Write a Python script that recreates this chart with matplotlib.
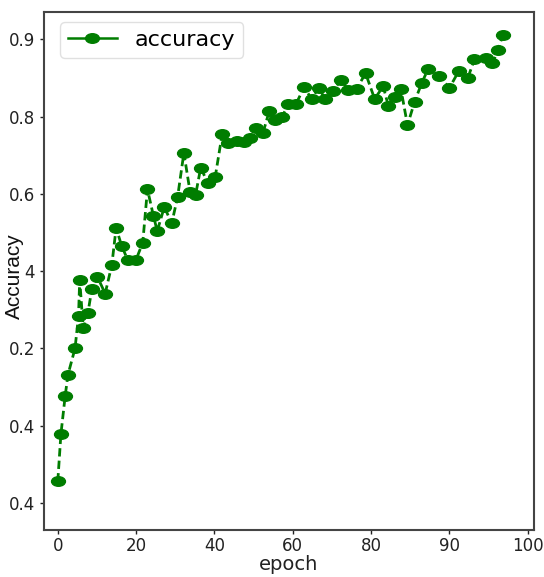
import numpy as np
import matplotlib
matplotlib.use("Agg")
from matplotlib import pyplot as plt
from matplotlib.path import Path
from matplotlib.transforms import Affine2D
from matplotlib.lines import Line2D

# values (x in tick units of 20, y in tick units of 0.1)
epoch = [0, 0.8, 1.9, 2.6, 4.4, 5.3, 5.6, 6.5, 7.7, 8.7, 10.1, 12.1, 13.8, 14.9, 16.3,
         17.9, 20.0, 21.7, 22.9, 24.4, 25.4, 27.2, 29.1, 30.6, 32.2, 33.8, 35.2, 36.5,
         38.3, 40.2, 42.0, 43.5, 45.7, 47.6, 49.1, 50.6, 52.4, 54.0, 55.5, 57.3, 58.9,
         60.8, 62.9, 64.8, 66.6, 68.3, 70.4, 72.3, 74.2, 76.3, 78.6, 80.9, 83.1, 84.4,
         86.1, 87.6, 89.3, 91.1, 92.9, 94.6, 97.3, 100.0, 102.4, 104.7, 106.4, 109.3,
         111.0, 112.4, 113.6]
accuracy = [0.328, 0.389, 0.439, 0.466, 0.500, 0.542, 0.589, 0.526, 0.546, 0.577, 0.593,
            0.571, 0.608, 0.656, 0.633, 0.614, 0.615, 0.637, 0.706, 0.672, 0.652, 0.683,
            0.662, 0.696, 0.753, 0.702, 0.699, 0.734, 0.714, 0.722, 0.778, 0.766, 0.769,
            0.767, 0.772, 0.785, 0.779, 0.807, 0.796, 0.800, 0.816, 0.816, 0.838, 0.823,
            0.837, 0.823, 0.833, 0.848, 0.834, 0.836, 0.856, 0.823, 0.839, 0.814, 0.825,
            0.836, 0.789, 0.819, 0.843, 0.862, 0.853, 0.837, 0.859, 0.850, 0.874, 0.876,
            0.869, 0.886, 0.905]

xtick_pos = [0, 20, 40, 60, 80, 100, 120]
xtick_labels = ['0', '20', '40', '60', '80', '90', '100']
ytick_pos = [0.3, 0.4, 0.5, 0.6, 0.7, 0.8, 0.9]
ytick_labels = ['0.4', '0.4', '0.2', '4', '0.6', '0.8', '0.9']

green = '#007d00'
ellipse = Path.unit_circle().transformed(Affine2D().scale(1.45, 1.0))

fig = plt.figure(figsize=(5.44, 5.77), dpi=100)
ax = fig.add_axes([0.081, 0.0815, 0.9006, 0.8982])

ax.plot(epoch, accuracy, color=green, linestyle='--', linewidth=2,
        marker=ellipse, markersize=10, markeredgecolor=green, dashes=(3, 1.5))

ax.set_xlim(-3.5, 121.6)
ax.set_ylim(0.2652, 0.9357)
ax.set_xticks(xtick_pos)
ax.set_xticklabels(xtick_labels)
ax.set_yticks(ytick_pos)
ax.set_yticklabels(ytick_labels)
ax.tick_params(labelsize=12, colors='#222222', length=3, width=1)
ax.tick_params(axis='x', pad=2)

for s in ax.spines.values():
    s.set_color('#444444')
    s.set_linewidth(1.5)

ax.set_xlabel('epoch', fontsize=14, color='#222222', labelpad=0)
ax.set_ylabel('Accuracy', fontsize=15, color='#111111',
              family=['Liberation Sans', 'DejaVu Sans'])
ax.yaxis.set_label_coords(-0.042, 0.49)

handle = Line2D([], [], color=green, linewidth=1.8, marker=ellipse, markersize=10)
ax.legend([handle], ['accuracy'], loc='upper left', fontsize=16,
          handlelength=2.2, borderpad=0.35, framealpha=0.9, edgecolor='#dddddd',
          borderaxespad=0, bbox_to_anchor=(0.033, 0.98))

fig.savefig('out.png', dpi=100)
